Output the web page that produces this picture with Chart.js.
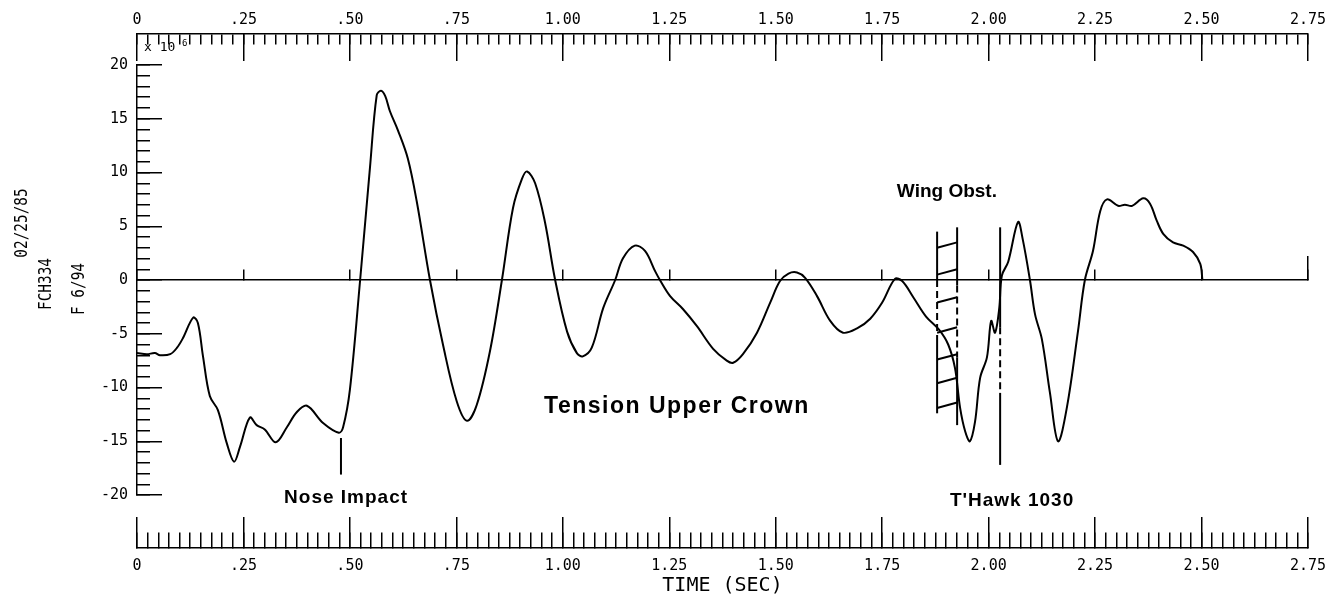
<!DOCTYPE html>
<html lang="en">
<head>
<meta charset="UTF-8">
<title>Tension Upper Crown</title>
<script src="https://cdn.jsdelivr.net/npm/chart.js"></script>
<style>
  html, body { margin: 0; padding: 0; background: #fff; }
  #wrap { width: 1331px; height: 599px; }
</style>
</head>
<body>
<div id="wrap"><canvas id="crownChart" width="1331" height="599"></canvas></div>
<script>
// time (sec) and tension (x 10^6)
const times = [
  0, 0.023, 0.042, 0.054, 0.078, 0.094, 0.108, 0.132, 0.143, 0.155,
  0.171, 0.19, 0.211, 0.228, 0.242, 0.265, 0.281, 0.30, 0.326, 0.352,
  0.375, 0.399, 0.437, 0.474, 0.484, 0.50, 0.524, 0.547, 0.563, 0.573,
  0.583, 0.594, 0.613, 0.636, 0.657, 0.688, 0.719, 0.751, 0.775, 0.798,
  0.829, 0.857, 0.883, 0.904, 0.916, 0.935, 0.958, 0.982, 1.01, 1.033,
  1.047, 1.068, 1.095, 1.123, 1.141, 1.169, 1.193, 1.217, 1.228, 1.252,
  1.282, 1.315, 1.353, 1.385, 1.40, 1.423, 1.456, 1.487, 1.51, 1.53,
  1.55, 1.569, 1.597, 1.628, 1.658, 1.691, 1.722, 1.75, 1.78, 1.797,
  1.823, 1.853, 1.883, 1.905, 1.921, 1.933, 1.945, 1.956, 1.968, 1.98,
  1.996, 2.006, 2.015, 2.025, 2.031, 2.046, 2.069, 2.08, 2.097, 2.109,
  2.125, 2.144, 2.163, 2.184, 2.21, 2.226, 2.245, 2.262, 2.278, 2.304,
  2.32, 2.337, 2.363, 2.379, 2.395, 2.41, 2.433, 2.457, 2.48, 2.497, 2.502
];
const tension = [
  -6.8, -6.9, -6.8, -7.0, -6.9, -6.3, -5.4, -3.5, -4.0, -7.1,
  -10.8, -12.1, -15.2, -16.9, -15.5, -12.8, -13.5, -13.9, -15.1, -13.7,
  -12.3, -11.7, -13.3, -14.2, -13.7, -10.2, 0, 10.4, 17.2, 17.6,
  17.1, 15.7, 13.9, 11.3, 7.3, 0, -6.1, -11.3, -13.1, -11.6,
  -6.6, 0, 6.7, 9.4, 10.1, 9.0, 5.4, 0, -4.8, -6.8,
  -7.1, -6.3, -2.6, 0, 2.0, 3.2, 2.7, 0.8, 0, -1.5,
  -2.7, -4.3, -6.4, -7.5, -7.7, -6.9, -4.9, -2.1, -0.1, 0.6,
  0.7, 0.2, -1.5, -3.8, -4.9, -4.5, -3.6, -2.1, 0.1, -0.1,
  -1.6, -3.4, -4.6, -6.0, -8.2, -11.9, -14.1, -15.0, -13.2, -9.1,
  -7.2, -3.8, -4.9, -2.6, 0.4, 1.7, 5.4, 3.8, 0, -3.2,
  -5.5, -10.5, -15.0, -11.8, -4.7, 0, 2.7, 6.4, 7.5, 6.9,
  7.0, 6.9, 7.6, 7.1, 5.5, 4.3, 3.5, 3.2, 2.6, 1.5, 0
];

const timeLabels = ['0', '.25', '.50', '.75', '1.00', '1.25', '1.50', '1.75', '2.00', '2.25', '2.50', '2.75'];
const yLabels = ['-20', '-15', '-10', '-5', '0', '5', '10', '15', '20'];

// events (sec) and marker extents (x 10^6)
const noseImpact = 0.479;
const wingObst = [1.879, 1.926];
const tHawk = 2.027;
const hatchLevels = [3.0, 0.5, -2.1, -4.9, -7.4, -9.6, -11.9];

const TOP_AXIS = 22.9;     // where the top time ruler sits, in y units
const BOTTOM_AXIS = -24.9; // bottom time ruler

const tickFont = { family: 'DejaVu Sans Mono', size: 15 };
const ink = '#000';

function ruler(pos, step, len, extra) {
  return Object.assign({
    type: 'linear', axis: 'x', position: pos, min: 0, max: 2.75,
    ticks: { stepSize: step, display: false, autoSkip: false },
    grid: { drawOnChartArea: false, tickLength: len, color: ink, lineWidth: 1.5 },
    border: { display: false }
  }, extra || {});
}

const markers = {
  id: 'markers',
  afterDatasetsDraw(chart) {
    const { ctx, scales: { x, y } } = chart;
    const px = t => x.getPixelForValue(t);
    const py = v => y.getPixelForValue(v);
    const area = chart.chartArea;
    ctx.save();
    ctx.strokeStyle = ink;
    ctx.fillStyle = ink;
    ctx.lineWidth = 2;

    function vline(t, top, bottom, dashTop, dashBottom) {
      const xx = px(t);
      const parts = dashTop === undefined
        ? [[top, bottom, []]]
        : [[top, dashTop, []], [dashTop, dashBottom, [7, 4]], [dashBottom, bottom, []]];
      parts.forEach(([a, b, dash]) => {
        ctx.setLineDash(dash);
        ctx.beginPath();
        ctx.moveTo(xx, py(a));
        ctx.lineTo(xx, py(b));
        ctx.stroke();
      });
      ctx.setLineDash([]);
    }

    vline(noseImpact, -14.7, -18.1);
    vline(wingObst[0], 4.5, -12.4, 0, -5.3);
    vline(wingObst[1], 4.9, -13.5, -0.5, -7.2);
    vline(tHawk, 4.9, -17.2, -4.4, -10.5);

    hatchLevels.forEach(h => {
      ctx.beginPath();
      ctx.moveTo(px(wingObst[0]), py(h));
      ctx.lineTo(px(wingObst[1]), py(h + 0.5));
      ctx.stroke();
    });

    ctx.textAlign = 'center';
    ctx.textBaseline = 'middle';
    const bold = '"Liberation Sans", Arial, sans-serif';
    ctx.font = 'bold 23px ' + bold;
    ctx.letterSpacing = '1.5px';
    ctx.fillText('Tension Upper Crown', px(1.268), py(-11.8));
    ctx.font = 'bold 19px ' + bold;
    ctx.letterSpacing = '1px';
    ctx.fillText('Nose Impact', px(0.491), py(-20.3));
    ctx.fillText("T'Hawk 1030", px(2.055), py(-20.5));
    ctx.letterSpacing = '0px';
    ctx.fillText('Wing Obst.', px(1.902), py(8.2));

    // axis title under the bottom ruler
    ctx.font = '20px "DejaVu Sans Mono", monospace';
    ctx.fillText('TIME (SEC)', (area.left + area.right) / 2, py(BOTTOM_AXIS) + 38);

    // scale factor note under the top ruler
    const topY = py(TOP_AXIS);
    ctx.textAlign = 'left';
    ctx.font = '13px "DejaVu Sans Mono", monospace';
    ctx.fillText('x 10', area.left + 7, topY + 14);
    ctx.font = '9px "DejaVu Sans Mono", monospace';
    ctx.fillText('6', area.left + 45, topY + 10);

    // run identification, rotated
    ctx.font = '18px "DejaVu Sans Mono", monospace';
    ctx.textAlign = 'center';
    [['02/25/85', 22, 223], ['FCH334', 46, 284], ['F 6/94', 79, 289]].forEach(([txt, cx, cy]) => {
      ctx.save();
      ctx.translate(cx, cy);
      ctx.rotate(-Math.PI / 2);
      ctx.scale(0.8, 1);
      ctx.fillText(txt, 0, 0);
      ctx.restore();
    });
    ctx.restore();
  }
};

new Chart(document.getElementById('crownChart'), {
  type: 'line',
  data: {
    datasets: [{
      label: 'Tension Upper Crown',
      data: times.map((t, i) => ({ x: t, y: tension[i] })),
      borderColor: ink,
      borderWidth: 2,
      pointRadius: 0,
      tension: 0.35,
      fill: false
    }]
  },
  options: {
    responsive: false,
    animation: false,
    devicePixelRatio: 1,
    layout: { padding: { left: 97, right: 23, top: 65, bottom: 104 } },
    plugins: { legend: { display: false }, tooltip: { enabled: false } },
    scales: {
      x: { type: 'linear', min: 0, max: 2.75, display: false },
      y: {
        type: 'linear', position: 'left', min: -20, max: 20,
        afterFit: s => { s.width = 40; },
        ticks: {
          stepSize: 5, padding: 34, color: ink, font: tickFont,
          callback: (v, i) => yLabels[i]
        },
        grid: { drawOnChartArea: false, tickLength: -25, color: ink, lineWidth: 1.5 },
        border: { color: ink, width: 1.5 }
      },
      yMinor: {
        type: 'linear', axis: 'y', position: { x: 0 }, min: -20, max: 20,
        ticks: { stepSize: 1, display: false },
        grid: { drawOnChartArea: false, tickLength: -13, color: ink, lineWidth: 1.5 },
        border: { display: false }
      },
      xTopMinor: ruler({ y: TOP_AXIS }, 0.025, 10, { border: { display: true, color: ink, width: 1.5 } }),
      xTopMajor: ruler({ y: TOP_AXIS }, 0.25, 27, {
        afterFit: s => { s.paddingLeft = 0; s.paddingRight = 0; },
        ticks: {
          stepSize: 0.25, autoSkip: false, maxRotation: 0, padding: -50, color: ink, font: tickFont,
          callback: (v, i) => timeLabels[i]
        }
      }),
      xZero: ruler({ y: 0 }, 0.25, -11, { border: { display: true, color: ink, width: 1.5 } }),
      xZeroEnd: ruler({ y: 0 }, 0.25, -24, {
        afterBuildTicks: s => { s.ticks = s.ticks.filter(t => t.value === 2.75); }
      }),
      xBottomMinor: ruler({ y: BOTTOM_AXIS }, 0.025, -16, { border: { display: true, color: ink, width: 1.5 } }),
      xBottomMajor: ruler({ y: BOTTOM_AXIS }, 0.25, -31, {
        afterFit: s => { s.paddingLeft = 0; s.paddingRight = 0; },
        ticks: {
          stepSize: 0.25, autoSkip: false, maxRotation: 0, padding: 40, color: ink, font: tickFont,
          callback: (v, i) => timeLabels[i]
        }
      })
    }
  },
  plugins: [markers]
});
</script>
</body>
</html>
